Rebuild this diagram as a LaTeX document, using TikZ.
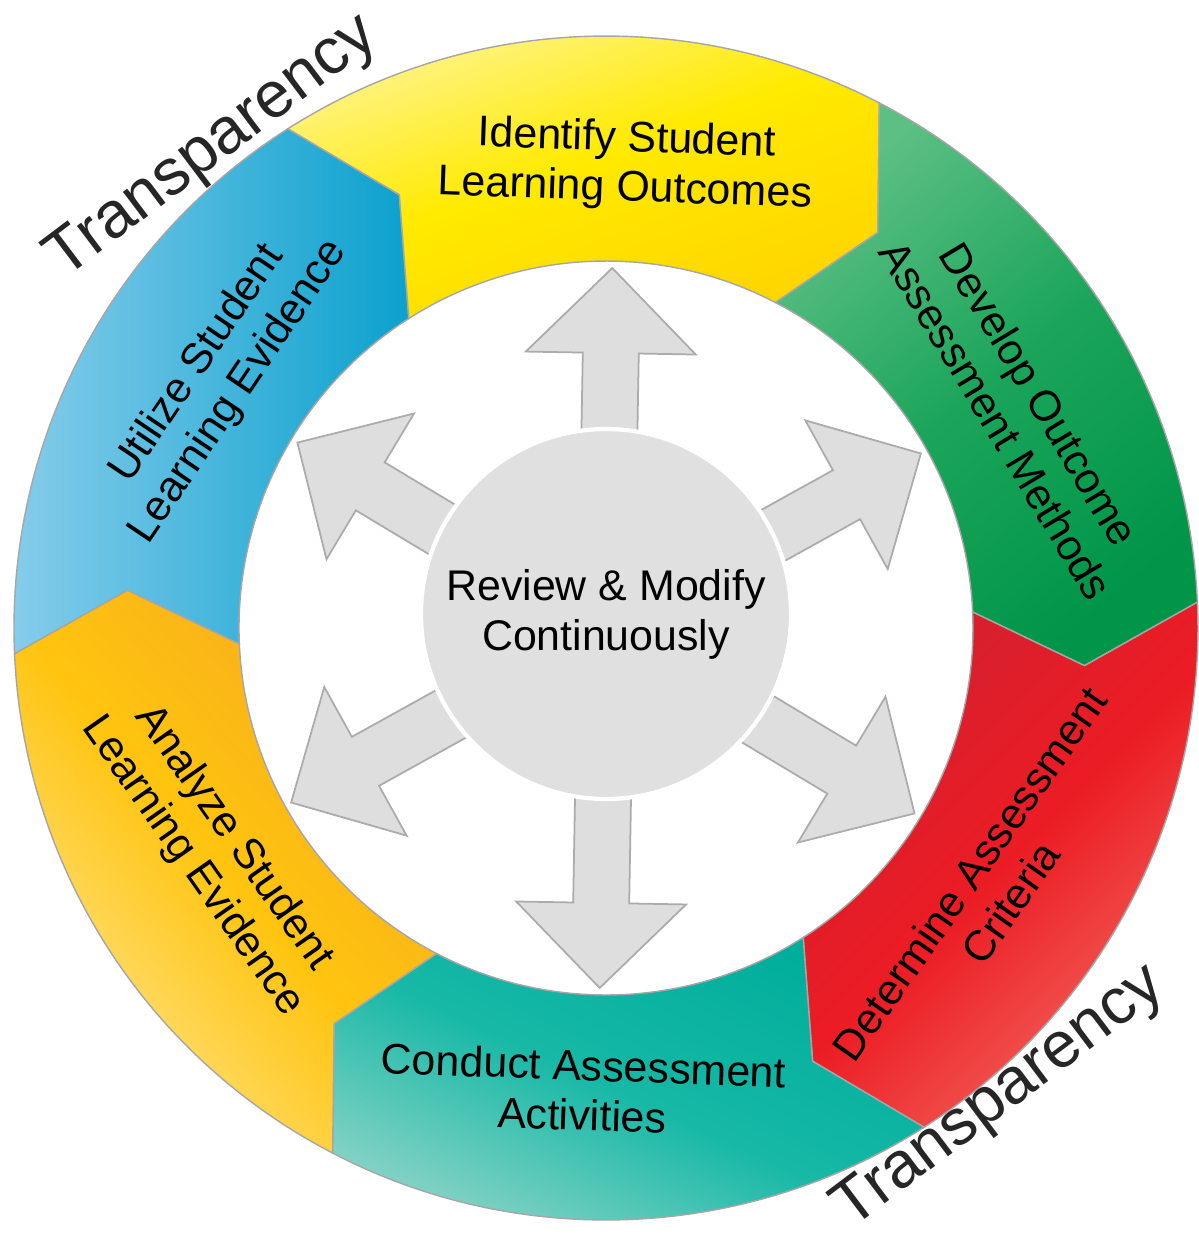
\documentclass[tikz,border=0pt]{standalone}
\usepackage{fontspec}
\setmainfont{Liberation Sans}

\definecolor{ylwlight}{HTML}{FFF59D}
\definecolor{ylwmid}{HTML}{FFEA00}
\definecolor{ylwdark}{HTML}{FFD500}
\definecolor{grnlight}{HTML}{5CBF84}
\definecolor{grnmid}{HTML}{1BA55A}
\definecolor{grndark}{HTML}{009548}
\definecolor{redlight}{HTML}{F2685E}
\definecolor{redmid}{HTML}{EC1C24}
\definecolor{reddark}{HTML}{D32030}
\definecolor{teallight}{HTML}{8FD5C8}
\definecolor{tealmid}{HTML}{17B8A6}
\definecolor{tealdark}{HTML}{00AE9B}
\definecolor{orglight}{HTML}{FFE48A}
\definecolor{orgmid}{HTML}{FFC40F}
\definecolor{orgdark}{HTML}{F7AC1E}
\definecolor{blulight}{HTML}{88CDEB}
\definecolor{bludark}{HTML}{0BA1CE}
\definecolor{hubgray}{HTML}{E0E0E0}
\definecolor{arrowgray}{HTML}{DEDEDE}
\definecolor{arrowedge}{HTML}{ABABAB}

\tikzset{
    seg/.style={draw=black!35, line width=0.4pt},
    ylwseg/.style={seg, top color=ylwlight, bottom color=ylwdark, middle color=ylwmid, shading angle=20},
    grnseg/.style={seg, top color=grnlight, bottom color=grndark, middle color=grnmid, shading angle=40},
    redseg/.style={seg, top color=reddark, bottom color=redlight, middle color=redmid, shading angle=45},
    tealseg/.style={seg, top color=tealdark, bottom color=teallight, middle color=tealmid, shading angle=-25},
    orgseg/.style={seg, top color=orgdark, bottom color=orglight, middle color=orgmid, shading angle=-50},
    bluseg/.style={seg, left color=blulight, right color=bludark},
    blockarrow/.style={fill=arrowgray, draw=arrowedge, line width=0.5pt},
    lbl/.style={align=center, inner sep=0pt, font=\fontsize{12.2}{14.2}\selectfont},
    transp/.style={inner sep=0pt, text=black!85, font=\fontsize{18.5}{22}\selectfont},
}

\begin{document}
\begin{tikzpicture}
    \useasboundingbox[fill=white] (-6.06, 6.28) rectangle (5.93, -6.09);

    % ring
    \foreach \a/\sty in {182.5/bluseg, 122.5/ylwseg, 62.5/grnseg, 2.5/redseg, -57.5/tealseg, -117.5/orgseg}
        \path[\sty] (\a:5.92) arc[start angle=\a, end angle=\a-60, radius=5.92]
            -- ({\a-67}:4.80) -- ({\a-60}:3.67)
            arc[start angle=\a-60, end angle=\a, radius=3.67]
            -- ({\a-7}:4.80) -- cycle;

    % arrows
    \foreach \ang in {89, 29, -31, -91, -151, 149}
        \draw[blockarrow, rotate=\ang] (0, -0.28) -- (2.75, -0.28) -- (2.75, -0.85) -- (3.60, 0)
            -- (2.75, 0.85) -- (2.75, 0.28) -- (0, 0.28) -- cycle;

    \node[circle, fill=hubgray, draw=white, line width=1.2pt, minimum size=3.70cm, lbl] (hub) at (0, 0.14) {Review \& Modify\\Continuously};

    %%%%%%%%%%%%%%%%%%%%%%%%%%%%%%%%%%%%%%%%

    \node[lbl, rotate=-2] (identify) at (0.20, 4.63) {Identify Student\\Learning Outcomes};
    \node[lbl, rotate=-59] (develop) at (4.12, 2.21) {Develop Outcome\\Assessment Methods};
    \node[lbl, rotate=55] (determine) at (3.84, -2.60) {Determine Assessment\\Criteria};
    \node[lbl, rotate=-2] (conduct) at (-0.23, -4.62) {Conduct Assessment\\Activities};
    \node[lbl, rotate=-55] (analyze) at (-3.93, -2.24) {Analyze Student\\Learning Evidence};
    \node[lbl, rotate=56] (utilize) at (-3.88, 2.50) {Utilize Student\\Learning Evidence};

    \node[transp, rotate=37] (transtl) at (-3.93, 4.80) {Transparency};
    \node[transp, rotate=37] (transbr) at (3.94, -4.70) {Transparency};

\end{tikzpicture}
\end{document}
